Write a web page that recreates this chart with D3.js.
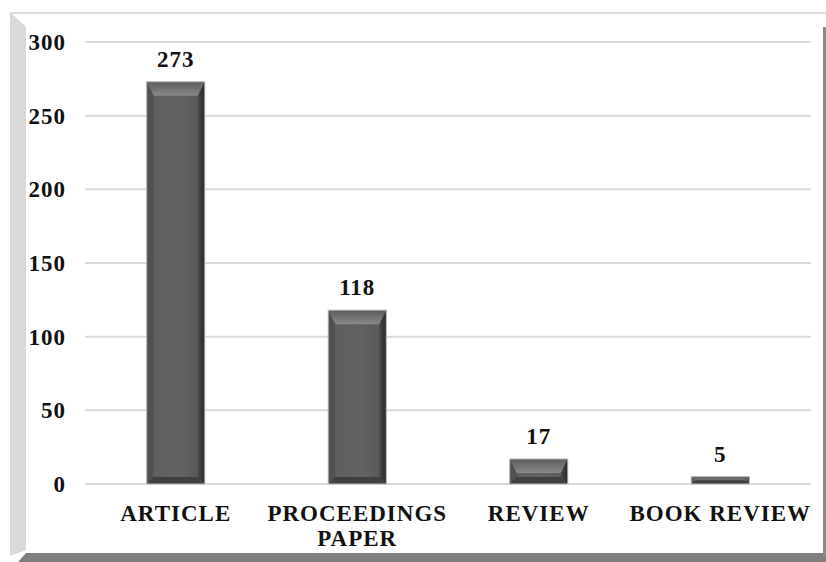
<!DOCTYPE html>
<html>
<head>
<meta charset="utf-8">
<script src="https://cdn.jsdelivr.net/npm/d3@7"></script>
<style>
  body { margin: 0; background: #fff; }
  svg text { font-family: "Liberation Serif", "Times New Roman", serif; font-weight: bold; fill: #111; }
</style>
</head>
<body>
<div id="chart"></div>
<script>
const categories = ['ARTICLE', 'PROCEEDINGS PAPER', 'REVIEW', 'BOOK REVIEW'];
const counts = [273, 118, 17, 5];
const yTicks = [0, 50, 100, 150, 200, 250, 300];

const width = 826;
const height = 562;

const svg = d3.select('#chart')
  .append('svg')
  .attr('width', width)
  .attr('height', height);

// frame with the bevel / shadow look
svg.append('rect').attr('x', 10).attr('y', 12).attr('width', 816).attr('height', 2).attr('fill', '#dcdcdc');
svg.append('polygon')
  .attr('points', '10,12 26,27 26,550 10,556')
  .attr('fill', '#d9d9d9');
svg.append('polygon')
  .attr('points', '18,562 26,553 826,553 826,562')
  .attr('fill', '#7f7f7f');
svg.append('rect').attr('x', 823).attr('y', 27).attr('width', 3).attr('height', 530).attr('fill', '#8c8c8c');

const margin = { top: 42, right: 15, bottom: 78, left: 85 };
const plot = {
  left: margin.left,
  right: 811,
  top: margin.top,
  bottom: height - margin.bottom
};

const xScale = d3.scaleBand()
  .domain(categories)
  .range([plot.left, plot.right])
  .paddingInner(0.68)
  .paddingOuter(0.34);

const yScale = d3.scaleLinear()
  .domain([0, 300])
  .range([plot.bottom, plot.top]);

// gridlines
svg.append('g')
  .selectAll('line')
  .data(yTicks)
  .join('line')
  .attr('x1', plot.left)
  .attr('x2', plot.right)
  .attr('y1', d => yScale(d))
  .attr('y2', d => yScale(d))
  .attr('stroke', '#d9d9d9')
  .attr('stroke-width', 2);

// y tick labels
svg.append('g')
  .selectAll('text')
  .data(yTicks)
  .join('text')
  .attr('x', 66)
  .attr('y', d => yScale(d))
  .attr('dy', '0.35em')
  .attr('text-anchor', 'end')
  .attr('font-size', 23)
  .attr('letter-spacing', 1)
  .text(d => d);

// gradients for the bevelled bars
const defs = svg.append('defs');
const topGrad = defs.append('linearGradient').attr('id', 'topGrad').attr('x1', 0).attr('y1', 0).attr('x2', 0).attr('y2', 1);
topGrad.append('stop').attr('offset', '0%').attr('stop-color', '#5a5a5a');
topGrad.append('stop').attr('offset', '100%').attr('stop-color', '#8a8a8a');
const bodyGrad = defs.append('linearGradient').attr('id', 'bodyGrad').attr('x1', 0).attr('y1', 0).attr('x2', 1).attr('y2', 0);
bodyGrad.append('stop').attr('offset', '0%').attr('stop-color', '#5e5e5e');
bodyGrad.append('stop').attr('offset', '60%').attr('stop-color', '#626262');
bodyGrad.append('stop').attr('offset', '100%').attr('stop-color', '#555');
const rightGrad = defs.append('linearGradient').attr('id', 'rightGrad').attr('x1', 0).attr('y1', 0).attr('x2', 1).attr('y2', 0);
rightGrad.append('stop').attr('offset', '0%').attr('stop-color', '#4a4a4a');
rightGrad.append('stop').attr('offset', '100%').attr('stop-color', '#262626');

const bev = 7;
const bars = svg.append('g')
  .selectAll('g')
  .data(categories.map((c, i) => ({ cat: c, value: counts[i] })))
  .join('g');

bars.each(function (d) {
  const g = d3.select(this);
  const x0 = xScale(d.cat);
  const x1 = x0 + xScale.bandwidth();
  const y0 = yScale(d.value);
  const y1 = yScale(0);
  const b = Math.min(bev, (y1 - y0) / 2);
  g.append('rect')
    .attr('x', x0).attr('y', y0)
    .attr('width', x1 - x0).attr('height', y1 - y0)
    .attr('fill', 'url(#bodyGrad)');
  // top facet
  g.append('polygon')
    .attr('points', `${x0},${y0} ${x1},${y0} ${x1 - b},${y0 + b * 2} ${x0 + b},${y0 + b * 2}`)
    .attr('fill', 'url(#topGrad)');
  // right facet
  g.append('polygon')
    .attr('points', `${x1},${y0} ${x1},${y1} ${x1 - b},${y1 - b} ${x1 - b},${y0 + b * 2}`)
    .attr('fill', 'url(#rightGrad)');
  // left facet
  g.append('polygon')
    .attr('points', `${x0},${y0} ${x0},${y1} ${x0 + b},${y1 - b} ${x0 + b},${y0 + b * 2}`)
    .attr('fill', '#515151');
  // bottom facet
  g.append('polygon')
    .attr('points', `${x0},${y1} ${x1},${y1} ${x1 - b},${y1 - b} ${x0 + b},${y1 - b}`)
    .attr('fill', '#404040');
  g.append('rect')
    .attr('x', x0).attr('y', y0)
    .attr('width', x1 - x0).attr('height', y1 - y0)
    .attr('fill', 'none')
    .attr('stroke', '#bdbdbd')
    .attr('stroke-width', 1);
});

// value labels
svg.append('g')
  .selectAll('text')
  .data(counts)
  .join('text')
  .attr('x', (d, i) => xScale(categories[i]) + xScale.bandwidth() / 2)
  .attr('y', d => yScale(d) - 15)
  .attr('text-anchor', 'middle')
  .attr('font-size', 23)
  .attr('letter-spacing', 1)
  .text(d => d);

// category labels (wrapped on the space for long names)
const catLabels = svg.append('g')
  .selectAll('text')
  .data(categories)
  .join('text')
  .attr('x', d => xScale(d) + xScale.bandwidth() / 2)
  .attr('y', 521)
  .attr('text-anchor', 'middle')
  .attr('font-size', 23)
  .attr('letter-spacing', 1);

catLabels.each(function (d) {
  const t = d3.select(this);
  const x = xScale(d) + xScale.bandwidth() / 2;
  const lines = d === 'PROCEEDINGS PAPER' ? ['PROCEEDINGS', 'PAPER'] : [d];
  lines.forEach((ln, i) => {
    t.append('tspan').attr('x', x).attr('dy', i === 0 ? 0 : 25).text(ln);
  });
});
</script>
</body>
</html>
